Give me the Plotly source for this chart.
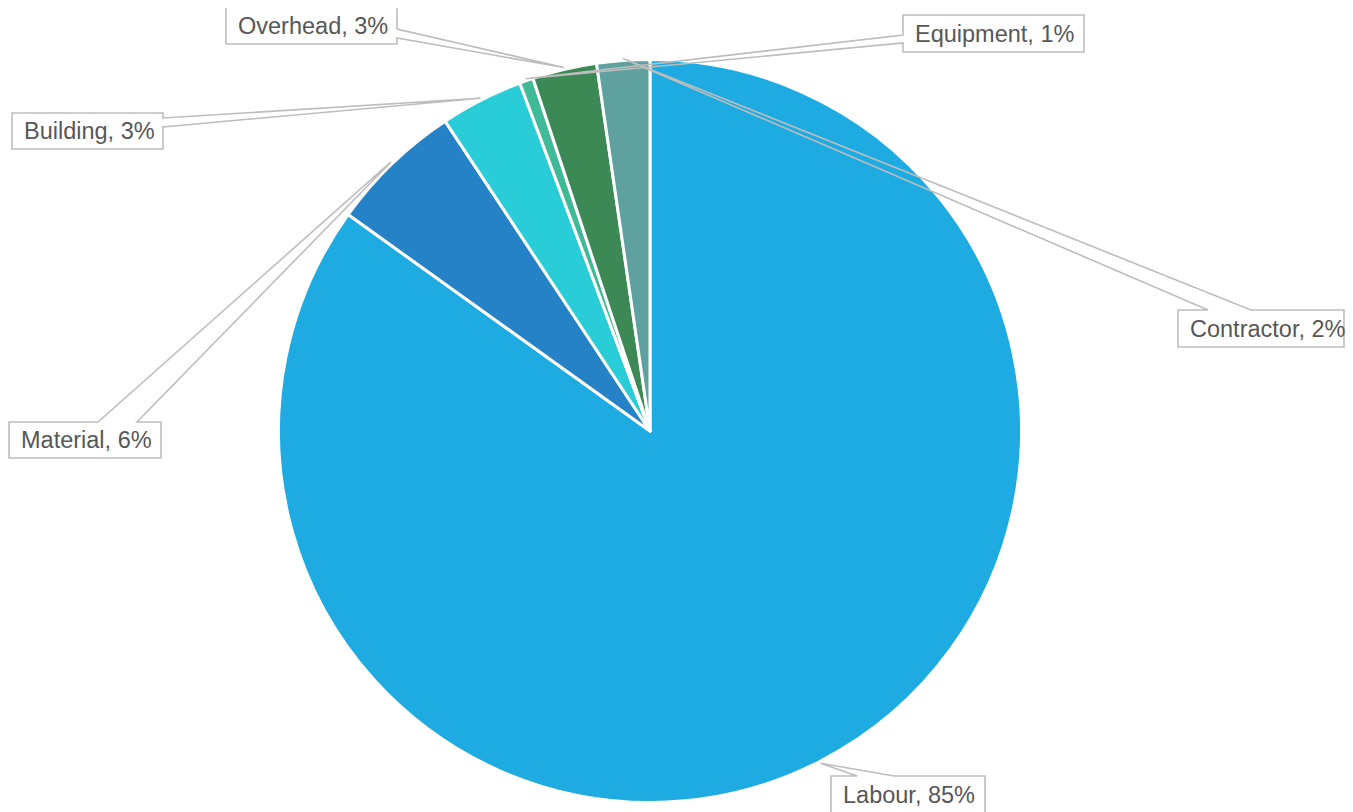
import math
import plotly.graph_objects as go

# ---- data ----
labels = ["Labour", "Material", "Building", "Equipment", "Overhead", "Contractor"]
values = [84.9, 5.8, 3.6, 0.6, 2.8, 2.3]
pct_text = ["85%", "6%", "3%", "1%", "3%", "2%"]
colors = ["#1EABE2", "#2682C6", "#28CDD7", "#40B996", "#3D8955", "#5FA19E"]

# ---- layout (target pixels in the 1353x812 window) ----
OFF = 8                            # default page body margin
W, H = 1353 - 2 * OFF, 812 - OFF    # figure size
cx, cy, R = 650.0, 431.0, 371.5

# callout boxes: (x0, y0, x1, y1), side where the tail attaches, tail base span
callouts = {
    "Labour":     ((831, 776, 985, 813), "top",   (857, 894)),
    "Material":   ((9, 422, 161, 458),   "top",   (98, 137)),
    "Building":   ((12, 113, 163, 149),  "right", (118, 127)),
    "Equipment":  ((903, 15, 1084, 52),  "left",  (35, 43)),
    "Overhead":   ((226, 7, 397, 44),    "right", (29, 38)),
    "Contractor": ((1178, 310, 1344, 347), "top", (1208, 1251)),
}


def px(x):
    return (x - OFF) / W


def py(y):
    return 1 - (y - OFF) / H


fig = go.Figure(go.Pie(
    labels=labels,
    values=values,
    sort=False,
    direction="clockwise",
    rotation=0,
    textinfo="none",
    hoverinfo="label+percent",
    marker=dict(colors=colors, line=dict(color="white", width=3)),
    domain=dict(x=[px(cx - R), px(cx + R)], y=[py(cy + R), py(cy - R)]),
    showlegend=False,
))

shapes = []
annotations = []
total = sum(values)
cum = 0.0
for lab, val, pt in zip(labels, values, pct_text):
    mid = (cum + val / 2) / total * 2 * math.pi
    cum += val
    tx = cx + (R + 2) * math.sin(mid)
    ty = cy - (R + 2) * math.cos(mid)
    (x0, y0, x1, y1), side, (b1, b2) = callouts[lab]
    if side == "top":
        pts = [(x0, y0), (b1, y0), (tx, ty), (b2, y0), (x1, y0), (x1, y1), (x0, y1)]
    elif side == "right":
        pts = [(x0, y0), (x1, y0), (x1, b1), (tx, ty), (x1, b2), (x1, y1), (x0, y1)]
    else:  # left
        pts = [(x0, y0), (x1, y0), (x1, y1), (x0, y1), (x0, b2), (tx, ty), (x0, b1)]
    path = "M " + " L ".join(f"{px(a):.5f},{py(b):.5f}" for a, b in pts) + " Z"
    shapes.append(dict(type="rect", xref="paper", yref="paper",
                       x0=px(x0), x1=px(x1), y0=py(y1), y1=py(y0),
                       fillcolor="white", line=dict(width=0), layer="above"))
    shapes.append(dict(type="path", xref="paper", yref="paper", path=path,
                       fillcolor="rgba(0,0,0,0)",
                       line=dict(color="#BDBDBD", width=1.6), layer="above"))
    annotations.append(dict(
        x=px(x0 + 9.5), y=py((y0 + y1) / 2), xref="paper", yref="paper",
        xanchor="left", yanchor="middle", showarrow=False,
        text=f"{lab}, {pt}",
        font=dict(family="Liberation Sans, Arial, sans-serif", size=23.5, color="#575757"),
    ))

fig.update_layout(
    width=W, height=H,
    margin=dict(l=0, r=0, t=0, b=0),
    paper_bgcolor="white",
    plot_bgcolor="white",
    shapes=shapes,
    annotations=annotations,
)

fig.write_html("out.html")
